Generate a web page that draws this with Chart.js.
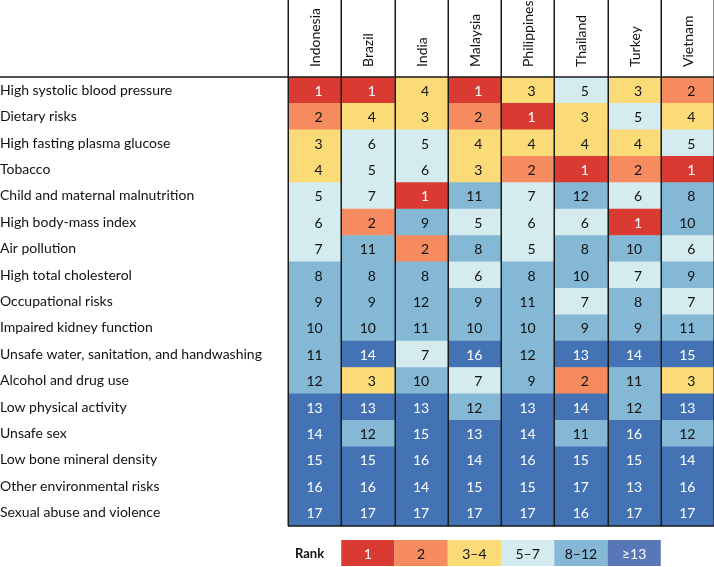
<!DOCTYPE html>
<html lang="en">
<head>
    <meta charset="UTF-8">
    <title>Risk factor ranks</title>
    <script src="https://cdn.jsdelivr.net/npm/chart.js"></script>
    <style>
        body { margin: 0; background: #fff; }
        #wrap { width: 714px; height: 567px; }
    </style>
</head>
<body>
    <div id="wrap"><canvas id="rankChart" width="714" height="567"></canvas></div>

    <script>
        // Data
        const countries = ['Indonesia', 'Brazil', 'India', 'Malaysia', 'Philippines', 'Thailand', 'Turkey', 'Vietnam'];
        const risks = [
            'High systolic blood pressure',
            'Dietary risks',
            'High fasting plasma glucose',
            'Tobacco',
            'Child and maternal malnutrition',
            'High body-mass index',
            'Air pollution',
            'High total cholesterol',
            'Occupational risks',
            'Impaired kidney function',
            'Unsafe water, sanitation, and handwashing',
            'Alcohol and drug use',
            'Low physical activity',
            'Unsafe sex',
            'Low bone mineral density',
            'Other environmental risks',
            'Sexual abuse and violence'
        ];
        // one array per country, in the order of risks
        const indonesia   = [1, 2, 3, 4, 5, 6, 7, 8, 9, 10, 11, 12, 13, 14, 15, 16, 17];
        const brazil      = [1, 4, 6, 5, 7, 2, 11, 8, 9, 10, 14, 3, 13, 12, 15, 16, 17];
        const india       = [4, 3, 5, 6, 1, 9, 2, 8, 12, 11, 7, 10, 13, 15, 16, 14, 17];
        const malaysia    = [1, 2, 4, 3, 11, 5, 8, 6, 9, 10, 16, 7, 12, 13, 14, 15, 17];
        const philippines = [3, 1, 4, 2, 7, 6, 5, 8, 11, 10, 12, 9, 13, 14, 16, 15, 17];
        const thailand    = [5, 3, 4, 1, 12, 6, 8, 10, 7, 9, 13, 2, 14, 11, 15, 17, 16];
        const turkey      = [3, 5, 4, 2, 6, 1, 10, 7, 8, 9, 14, 11, 12, 16, 15, 13, 17];
        const vietnam     = [2, 4, 5, 1, 8, 10, 6, 9, 7, 11, 15, 3, 13, 12, 14, 16, 17];
        const rankData = [indonesia, brazil, india, malaysia, philippines, thailand, turkey, vietnam];

        const legendLabels = ['1', '2', '3–4', '5–7', '8–12', '≥13'];
        const binColors = ['#d93b33', '#f58b5f', '#fadb78', '#d4ebf0', '#84b8d4', '#4473b5'];
        const binText = ['#fff', '#111', '#111', '#111', '#111', '#fff'];

        const FONT = "'Lato', 'DejaVu Sans', sans-serif";

        function binOf(r) {
            if (r === 1) return 0;
            if (r === 2) return 1;
            if (r <= 4) return 2;
            if (r <= 7) return 3;
            if (r <= 12) return 4;
            return 5;
        }

        // Floating bars: each country is one column [i, i+1]
        const datasets = countries.map((name, i) => ({
            label: name,
            data: rankData[i].map(() => [i, i + 1]),
            ranks: rankData[i],
            backgroundColor: rankData[i].map(r => binColors[binOf(r)]),
            borderWidth: 0,
            barPercentage: 1,
            categoryPercentage: 1,
            grouped: false
        }));

        const tablePlugin = {
            id: 'tablePlugin',
            afterDatasetsDraw(chart) {
                const ctx = chart.ctx;
                const x = chart.scales.x;
                const area = chart.chartArea;

                // cell numbers
                ctx.save();
                ctx.font = '14px ' + FONT;
                ctx.textAlign = 'right';
                ctx.textBaseline = 'middle';
                chart.data.datasets.forEach((ds, di) => {
                    const meta = chart.getDatasetMeta(di);
                    meta.data.forEach((bar, j) => {
                        const r = ds.ranks[j];
                        const cx = (bar.x + bar.base) / 2;
                        ctx.fillStyle = binText[binOf(r)];
                        ctx.fillText(String(r), cx + 8, bar.y + 1);
                    });
                });

                // column lines
                ctx.strokeStyle = '#1a1a1a';
                ctx.lineWidth = 1.5;
                for (let i = 0; i <= countries.length; i++) {
                    const px = Math.round(x.getPixelForValue(i)) + 0.25;
                    ctx.beginPath();
                    ctx.moveTo(px, 0);
                    ctx.lineTo(px, area.bottom);
                    ctx.stroke();
                }
                // header rule and bottom rule
                ctx.beginPath();
                ctx.moveTo(0, area.top);
                ctx.lineTo(chart.width, area.top);
                ctx.stroke();
                ctx.beginPath();
                ctx.moveTo(x.getPixelForValue(0), area.bottom);
                ctx.lineTo(chart.width, area.bottom);
                ctx.stroke();

                // column headers, rotated
                ctx.fillStyle = '#111';
                ctx.font = '14px ' + FONT;
                ctx.textAlign = 'left';
                ctx.textBaseline = 'middle';
                countries.forEach((name, i) => {
                    const cx = x.getPixelForValue(i + 0.5);
                    ctx.save();
                    ctx.translate(cx + 1, area.top - 10);
                    ctx.rotate(-Math.PI / 2);
                    ctx.fillText(name, 0, 0);
                    ctx.restore();
                });

                // rank legend
                const ly = area.bottom + 14;
                const lh = 26;
                ctx.font = 'bold 13px ' + FONT;
                ctx.fillStyle = '#111';
                ctx.textAlign = 'left';
                ctx.fillText('Rank', 295, ly + lh / 2 + 1);
                ctx.font = '14px ' + FONT;
                ctx.textAlign = 'center';
                legendLabels.forEach((lab, k) => {
                    const x0 = x.getPixelForValue(k + 1);
                    const x1 = x.getPixelForValue(k + 2);
                    ctx.fillStyle = k === 5 ? '#5877b7' : binColors[k];
                    ctx.fillRect(x0, ly, x1 - x0, lh);
                    ctx.fillStyle = binText[k];
                    ctx.fillText(lab, (x0 + x1) / 2, ly + lh / 2 + 1);
                });
                ctx.restore();
            }
        };

        new Chart(document.getElementById('rankChart'), {
            type: 'bar',
            data: { labels: risks, datasets: datasets },
            options: {
                indexAxis: 'y',
                responsive: false,
                animation: false,
                layout: { padding: { top: 77, bottom: 41, left: 0, right: 0 } },
                plugins: {
                    legend: { display: false },
                    tooltip: { enabled: false }
                },
                scales: {
                    x: {
                        type: 'linear',
                        min: 0,
                        max: countries.length,
                        display: false
                    },
                    y: {
                        type: 'category',
                        grid: { display: false },
                        border: { display: false },
                        ticks: {
                            crossAlign: 'far',
                            color: '#111',
                            font: { family: FONT, size: 14 },
                            padding: 0,
                            autoSkip: false
                        },
                        afterFit(scale) { scale.width = 288; }
                    }
                }
            },
            plugins: [tablePlugin]
        });
    </script>
</body>
</html>
